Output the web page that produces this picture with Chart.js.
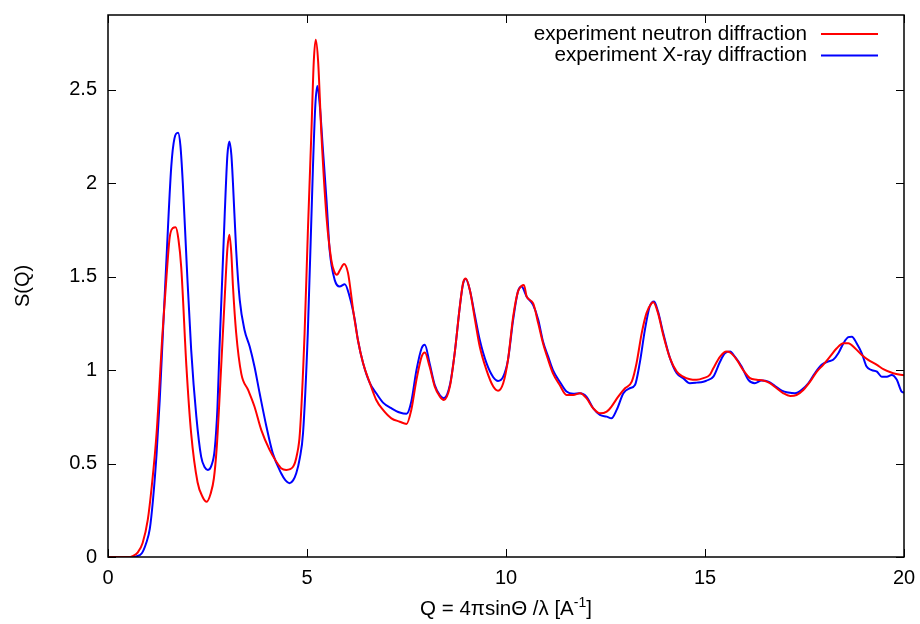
<!DOCTYPE html>
<html>
<head>
<meta charset="utf-8">
<script src="https://cdn.jsdelivr.net/npm/chart.js@4"></script>
<style>
  body { margin: 0; background: #fff; }
  #wrap { width: 920px; height: 624px; }
</style>
</head>
<body>
<div id="wrap"><canvas id="myChart" width="920" height="624"></canvas></div>
<script>
// datos
const neutronQ = [0, 0.5, 0.62, 0.75, 0.87, 1.0, 1.1, 1.22, 1.37, 1.47, 1.55, 1.63, 1.70, 1.77, 1.84, 1.97, 2.09, 2.25, 2.38, 2.48, 2.58, 2.66, 2.73, 2.80, 2.93, 3.0, 3.05, 3.10, 3.14, 3.22, 3.35, 3.52, 3.68, 3.85, 4.06, 4.23, 4.35, 4.48, 4.65, 4.75, 4.82, 4.94, 5.02, 5.11, 5.17, 5.22, 5.28, 5.36, 5.49, 5.61, 5.68, 5.75, 5.84, 5.93, 6.03, 6.16, 6.28, 6.41, 6.58, 6.74, 6.91, 7.12, 7.33, 7.50, 7.62, 7.75, 7.88, 7.96, 8.08, 8.21, 8.34, 8.44, 8.59, 8.71, 8.84, 8.92, 8.99, 9.09, 9.22, 9.34, 9.51, 9.68, 9.80, 9.93, 10.05, 10.18, 10.30, 10.39, 10.45, 10.52, 10.68, 10.81, 10.93, 11.06, 11.18, 11.35, 11.52, 11.69, 11.86, 12.02, 12.19, 12.36, 12.53, 12.65, 12.82, 12.99, 13.16, 13.28, 13.41, 13.53, 13.66, 13.70, 13.82, 13.95, 14.12, 14.29, 14.45, 14.62, 14.79, 14.96, 15.12, 15.21, 15.38, 15.54, 15.63, 15.80, 15.96, 16.13, 16.30, 16.46, 16.63, 16.80, 16.97, 17.14, 17.30, 17.47, 17.64, 17.81, 17.97, 18.14, 18.31, 18.48, 18.60, 18.77, 18.94, 19.10, 19.32, 19.48, 19.73, 20.0];
const neutronS = [0, 0, 0.005, 0.025, 0.075, 0.2, 0.38, 0.66, 1.2, 1.5, 1.71, 1.76, 1.765, 1.7, 1.55, 1.02, 0.66, 0.40, 0.32, 0.296, 0.34, 0.42, 0.58, 0.84, 1.376, 1.65, 1.724, 1.62, 1.447, 1.2, 0.98, 0.894, 0.805, 0.68, 0.573, 0.51, 0.475, 0.466, 0.483, 0.55, 0.66, 1.2, 1.73, 2.27, 2.65, 2.768, 2.65, 2.27, 1.82, 1.59, 1.53, 1.51, 1.54, 1.568, 1.52, 1.32, 1.16, 1.037, 0.93, 0.84, 0.787, 0.742, 0.724, 0.712, 0.787, 0.948, 1.072, 1.094, 1.019, 0.912, 0.858, 0.84, 0.912, 1.09, 1.34, 1.465, 1.49, 1.43, 1.27, 1.126, 1.0, 0.912, 0.89, 0.93, 1.055, 1.286, 1.42, 1.45, 1.456, 1.393, 1.358, 1.25, 1.144, 1.055, 0.983, 0.92, 0.867, 0.867, 0.876, 0.85, 0.796, 0.769, 0.778, 0.805, 0.858, 0.903, 0.938, 1.037, 1.198, 1.305, 1.358, 1.363, 1.305, 1.188, 1.064, 0.992, 0.965, 0.951, 0.948, 0.957, 0.974, 1.01, 1.072, 1.099, 1.094, 1.055, 1.0, 0.957, 0.948, 0.944, 0.93, 0.903, 0.876, 0.862, 0.867, 0.894, 0.938, 0.992, 1.028, 1.072, 1.117, 1.144, 1.144, 1.117, 1.081, 1.055, 1.028, 1.005, 0.983, 0.972];

const xrayQ = [0, 0.6, 0.71, 0.85, 0.96, 1.05, 1.13, 1.22, 1.30, 1.38, 1.46, 1.59, 1.67, 1.76, 1.82, 1.88, 1.98, 2.09, 2.22, 2.34, 2.43, 2.51, 2.60, 2.68, 2.75, 2.80, 2.93, 3.00, 3.05, 3.10, 3.14, 3.22, 3.31, 3.43, 3.56, 3.68, 3.81, 3.98, 4.14, 4.35, 4.46, 4.56, 4.65, 4.73, 4.82, 4.90, 5.02, 5.15, 5.21, 5.26, 5.32, 5.40, 5.49, 5.57, 5.70, 5.82, 5.95, 6.07, 6.2, 6.28, 6.41, 6.58, 6.74, 6.91, 7.12, 7.33, 7.50, 7.62, 7.75, 7.88, 7.96, 8.08, 8.21, 8.34, 8.44, 8.59, 8.71, 8.84, 8.92, 8.99, 9.09, 9.22, 9.34, 9.51, 9.68, 9.80, 9.93, 10.05, 10.18, 10.30, 10.39, 10.52, 10.68, 10.81, 10.93, 11.06, 11.18, 11.35, 11.52, 11.69, 11.86, 12.02, 12.19, 12.36, 12.53, 12.65, 12.78, 12.95, 13.11, 13.24, 13.36, 13.49, 13.61, 13.72, 13.82, 13.95, 14.12, 14.29, 14.45, 14.62, 14.79, 14.96, 15.04, 15.21, 15.38, 15.50, 15.63, 15.75, 15.92, 16.09, 16.25, 16.42, 16.59, 16.76, 16.93, 17.09, 17.26, 17.43, 17.60, 17.76, 17.93, 18.09, 18.22, 18.35, 18.48, 18.60, 18.69, 18.81, 18.94, 19.06, 19.19, 19.32, 19.44, 19.57, 19.69, 19.82, 19.94, 20.0];
const xrayS = [0, 0, 0.003, 0.02, 0.075, 0.15, 0.305, 0.55, 0.84, 1.2, 1.554, 2.09, 2.24, 2.27, 2.2, 2.0, 1.554, 1.108, 0.751, 0.537, 0.48, 0.466, 0.49, 0.573, 0.8, 1.108, 1.82, 2.15, 2.223, 2.15, 2.0, 1.643, 1.376, 1.215, 1.126, 1.019, 0.876, 0.698, 0.555, 0.448, 0.41, 0.395, 0.41, 0.448, 0.53, 0.662, 1.198, 2.09, 2.42, 2.52, 2.42, 2.18, 1.91, 1.64, 1.48, 1.447, 1.46, 1.394, 1.27, 1.16, 1.037, 0.93, 0.876, 0.826, 0.796, 0.773, 0.766, 0.831, 1.0, 1.117, 1.135, 1.037, 0.92, 0.865, 0.85, 0.92, 1.09, 1.34, 1.46, 1.487, 1.43, 1.29, 1.162, 1.037, 0.962, 0.942, 0.965, 1.055, 1.27, 1.42, 1.447, 1.393, 1.349, 1.27, 1.153, 1.072, 1.0, 0.938, 0.885, 0.873, 0.876, 0.858, 0.796, 0.76, 0.751, 0.742, 0.787, 0.876, 0.903, 0.92, 1.037, 1.215, 1.34, 1.367, 1.313, 1.198, 1.064, 0.983, 0.957, 0.93, 0.933, 0.938, 0.944, 0.965, 1.046, 1.09, 1.099, 1.072, 1.019, 0.948, 0.93, 0.944, 0.938, 0.915, 0.89, 0.88, 0.876, 0.894, 0.93, 0.983, 1.028, 1.046, 1.055, 1.09, 1.144, 1.176, 1.179, 1.144, 1.09, 1.019, 1.0, 0.992, 0.965, 0.965, 0.974, 0.948, 0.885, 0.88];

const xTicks = [0, 5, 10, 15, 20];
const yTicks = [0, 0.5, 1, 1.5, 2, 2.5];
const yTickLabels = ['0', '0.5', '1', '1.5', '2', '2.5'];
const seriesNames = ['experiment neutron diffraction', 'experiment X-ray diffraction'];
const seriesColors = ['#ff0000', '#0000ff'];

const fontFamily = '"Liberation Sans", Arial, Helvetica, sans-serif';
Chart.defaults.font.family = fontFamily;
Chart.defaults.font.size = 20;
Chart.defaults.color = '#000';

function toPoints(qs, ss) {
    return qs.map((q, i) => ({ x: q, y: ss[i] }));
}

// marco, ticks hacia dentro, leyenda y titulo del eje x (estilo gnuplot)
const gnuplotFrame = {
    id: 'gnuplotFrame',
    afterDraw(chart) {
        const ctx = chart.ctx;
        const a = chart.chartArea;
        const sx = chart.scales.x, sy = chart.scales.y;
        const tl = 8;
        ctx.save();
        ctx.strokeStyle = '#000';
        ctx.lineWidth = 1.5;
        ctx.strokeRect(a.left, a.top, a.right - a.left, a.bottom - a.top);
        ctx.lineWidth = 1;
        ctx.beginPath();
        xTicks.forEach(v => {
            const px = Math.round(sx.getPixelForValue(v)) + 0.5;
            ctx.moveTo(px, a.bottom); ctx.lineTo(px, a.bottom - tl);
            ctx.moveTo(px, a.top); ctx.lineTo(px, a.top + tl);
        });
        yTicks.forEach(v => {
            const py = Math.round(sy.getPixelForValue(v)) + 0.5;
            ctx.moveTo(a.left, py); ctx.lineTo(a.left + tl, py);
            ctx.moveTo(a.right, py); ctx.lineTo(a.right - tl, py);
        });
        ctx.stroke();

        // leyenda
        ctx.font = '20.7px ' + fontFamily;
        ctx.textAlign = 'right';
        ctx.textBaseline = 'middle';
        ctx.fillStyle = '#000';
        seriesNames.forEach((name, i) => {
            const y = 34 + i * 21.5;
            ctx.fillText(name, 807, y);
            ctx.strokeStyle = seriesColors[i];
            ctx.lineWidth = 2;
            ctx.beginPath();
            ctx.moveTo(821, y); ctx.lineTo(878, y);
            ctx.stroke();
        });

        // titulo eje x con superindice
        const main = 'Q = 4\u03C0sin\u0398 /\u03BB [A';
        const sup = '-1';
        const end = ']';
        ctx.textAlign = 'left';
        ctx.textBaseline = 'alphabetic';
        ctx.font = '20.5px ' + fontFamily;
        const w1 = ctx.measureText(main).width;
        const w3 = ctx.measureText(end).width;
        ctx.font = '14px ' + fontFamily;
        const w2 = ctx.measureText(sup).width;
        const total = w1 + w2 + w3;
        let x0 = (a.left + a.right) / 2 - total / 2;
        const base = 615;
        ctx.font = '20.5px ' + fontFamily;
        ctx.fillText(main, x0, base);
        ctx.font = '14px ' + fontFamily;
        ctx.fillText(sup, x0 + w1, base - 8);
        ctx.font = '20.5px ' + fontFamily;
        ctx.fillText(end, x0 + w1 + w2, base);
        ctx.restore();
    }
};

const data = {
    datasets: [
        {
            label: seriesNames[0],
            data: toPoints(neutronQ, neutronS),
            borderColor: seriesColors[0],
            borderWidth: 2,
            pointRadius: 0,
            cubicInterpolationMode: 'monotone'
        },
        {
            label: seriesNames[1],
            data: toPoints(xrayQ, xrayS),
            borderColor: seriesColors[1],
            borderWidth: 2,
            pointRadius: 0,
            cubicInterpolationMode: 'monotone'
        }
    ]
};

const config = {
    type: 'line',
    data: data,
    options: {
        responsive: false,
        animation: false,
        layout: { padding: { top: 15, right: 16, left: 0, bottom: 0 } },
        plugins: {
            legend: { display: false },
            tooltip: { enabled: false }
        },
        scales: {
            x: {
                type: 'linear',
                min: 0,
                max: 20,
                grid: { display: false, drawTicks: false },
                border: { display: false },
                afterBuildTicks: s => { s.ticks = xTicks.map(v => ({ value: v })); },
                afterFit: s => { s.height = 67; s.paddingLeft = 0; s.paddingRight = 0; },
                ticks: { padding: 9, maxRotation: 0, callback: v => String(v) }
            },
            y: {
                type: 'linear',
                min: 0,
                max: 2.9,
                grid: { display: false, drawTicks: false },
                border: { display: false },
                afterBuildTicks: s => { s.ticks = yTicks.map(v => ({ value: v })); },
                afterFit: s => { s.width = 108; s.paddingTop = 0; s.paddingBottom = 0; },
                ticks: { padding: 11, callback: v => yTickLabels[yTicks.indexOf(v)] },
                title: { display: true, text: 'S(Q)', padding: { top: 11, bottom: 0 } }
            }
        }
    },
    plugins: [gnuplotFrame]
};

const myChart = new Chart(document.getElementById('myChart'), config);
</script>
</body>
</html>
